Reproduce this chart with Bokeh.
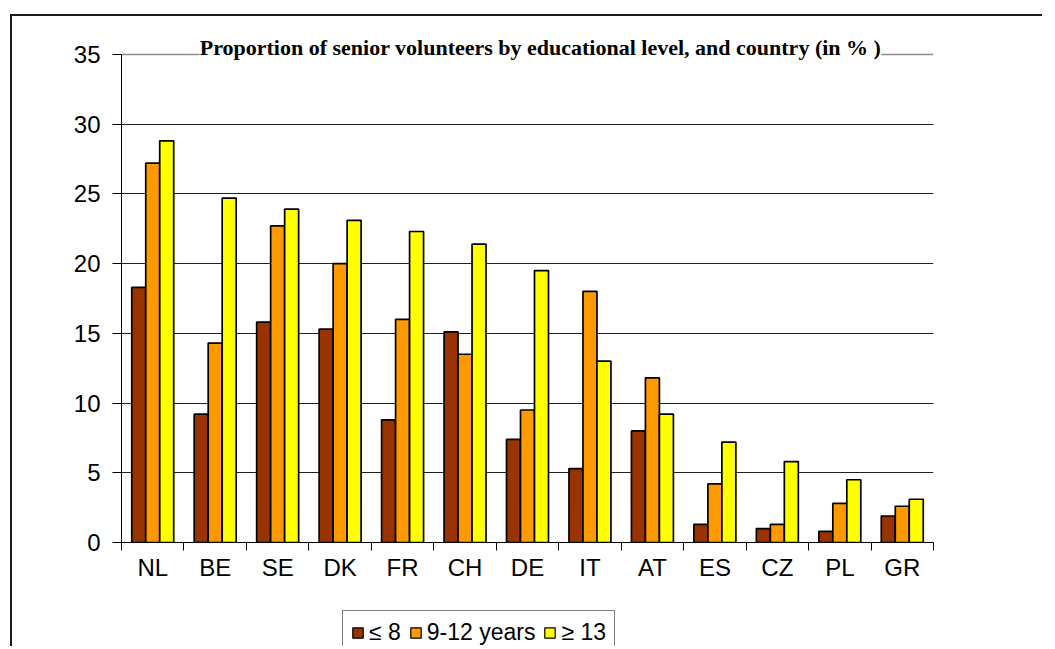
from bokeh.plotting import figure
from bokeh.layouts import column
from bokeh.models import (Range1d, LinearAxis, FixedTicker, Legend, LegendItem, Label,
                          ColumnDataSource, Grid)
from bokeh.transform import dodge
from bokeh.embed import file_html
from bokeh.resources import INLINE

countries = ["NL", "BE", "SE", "DK", "FR", "CH", "DE", "IT", "AT", "ES", "CZ", "PL", "GR"]
low = [18.3, 9.2, 15.8, 15.3, 8.8, 15.1, 7.4, 5.3, 8.0, 1.3, 1.0, 0.8, 1.9]
mid = [27.2, 14.3, 22.7, 20.0, 16.0, 13.5, 9.5, 18.0, 11.8, 4.2, 1.3, 2.8, 2.6]
high = [28.8, 24.7, 23.9, 23.1, 22.3, 21.4, 19.5, 13.0, 9.2, 7.2, 5.8, 4.5, 3.1]
series_labels = ["\u2264 8", "9-12 years", "\u2265 13"]
colors = ["#993300", "#FF9900", "#FFFF00"]
y_ticks = [0, 5, 10, 15, 20, 25, 30, 35]
title_text = "Proportion of senior volunteers by educational level, and country (in % )"

n = len(countries)
centers = [i + 0.5 for i in range(n)]
src = ColumnDataSource(dict(xc=centers, country=countries, low=low, mid=mid, high=high))

YMAX = 35
W = 1030
p = figure(x_range=Range1d(0, n), y_range=Range1d(0, 37.0),
           width=W, height=583, output_backend="svg", toolbar_location=None,
           x_axis_location=None, y_axis_location=None,
           min_border_left=109, min_border_right=W - 109 - 812, min_border_top=10,
           min_border_bottom=57)
p.background_fill_color = "white"
p.border_fill_color = "white"
p.outline_line_color = None

# grid
p.xgrid.visible = False
p.ygrid.ticker = FixedTicker(ticks=y_ticks[1:-1])
p.ygrid.grid_line_color = "#202020"
p.ygrid.grid_line_width = 1
top_line = Grid(dimension=1, ticker=FixedTicker(ticks=[YMAX]), grid_line_color="#8c8c8c",
                grid_line_width=1.5)
right_line = Grid(dimension=0, ticker=FixedTicker(ticks=[n]), grid_line_color="#8c8c8c",
                  grid_line_width=1.5, bounds=(0, YMAX))
p.add_layout(top_line)
p.add_layout(right_line)

# y axis
yax = LinearAxis(ticker=FixedTicker(ticks=y_ticks, minor_ticks=[]), bounds=(0, YMAX))
yax.axis_line_color = "black"
yax.major_tick_in = 0
yax.major_tick_out = 9
yax.major_tick_line_color = "black"
yax.major_label_text_font = "Liberation Sans"
yax.major_label_text_font_size = "24px"
yax.major_label_text_color = "black"
yax.major_label_standoff = 12
p.add_layout(yax, "left")

# x axis: labels at category centres, ticks at category boundaries
xax = LinearAxis(ticker=FixedTicker(ticks=centers, minor_ticks=list(range(n + 1))))
xax.major_label_overrides = {c: name for c, name in zip(centers, countries)}
xax.axis_line_color = "black"
xax.major_tick_line_color = None
xax.major_tick_in = 0
xax.major_tick_out = 8
xax.minor_tick_in = 0
xax.minor_tick_out = 8
xax.minor_tick_line_color = "black"
xax.major_label_text_font = "Liberation Sans"
xax.major_label_text_font_size = "24px"
xax.major_label_text_color = "black"
xax.major_label_standoff = 3
p.add_layout(xax, "below")

w = 0.224
for field, off, col in zip(["low", "mid", "high"], [-w, 0, w], colors):
    p.vbar(x=dodge("xc", off), top=field, width=w, bottom=0,
           source=src, fill_color=col, line_color="black", line_width=1.7)

title = Label(x=6.5 + 13 / 62.5, y=YMAX, text=title_text,
              text_align="center", text_baseline="middle", y_offset=7,
              text_font="Liberation Serif", text_font_style="bold", text_font_size="22px",
              text_color="black", background_fill_color="white", background_fill_alpha=1)
p.add_layout(title)

# legend strip
lf = figure(x_range=Range1d(0, 1), y_range=Range1d(0, 1), width=W, height=47,
            output_backend="svg", toolbar_location=None,
            x_axis_location=None, y_axis_location=None,
            min_border_left=0, min_border_right=0, min_border_top=0, min_border_bottom=0)
lf.outline_line_color = None
lf.xgrid.visible = False
lf.ygrid.visible = False
lf.background_fill_color = "white"
lf.border_fill_color = "white"
swatches = []
for col in colors:
    # legend-only renderers, hidden behind the opaque legend box
    swatches.append(lf.vbar(x=[0.45], top=[0.5], bottom=[0.2], width=0.02, fill_color=col,
                            line_color="black", line_width=1.2))

legend = Legend(items=[LegendItem(label=lab, renderers=[r]) for lab, r in zip(series_labels, swatches)],
                orientation="horizontal", location=(221, -9))
legend.label_text_font = "Liberation Sans"
legend.label_text_font_size = "23px"
legend.label_text_color = "black"
legend.glyph_width = 13
legend.glyph_height = 13
legend.label_standoff = 5
legend.spacing = 8
legend.padding = 8
legend.margin = 0
legend.border_line_color = "black"
legend.border_line_width = 1
legend.background_fill_color = "white"
legend.background_fill_alpha = 1
lf.add_layout(legend, "center")

layout = column(p, lf, spacing=0)
layout.styles = {"border-top": "2px solid #1a1a1a", "border-left": "2px solid #1a1a1a",
                 "position": "relative", "left": "10px", "top": "14px"}

open("out.html", "w").write(file_html(layout, INLINE))
